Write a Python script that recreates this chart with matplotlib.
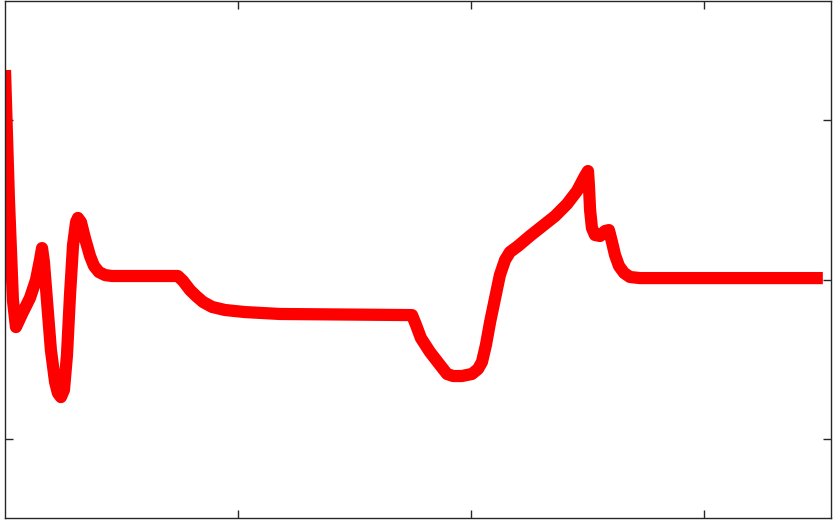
import matplotlib
matplotlib.use('Agg')
import matplotlib.pyplot as plt
import numpy as np

# values (x: one unit per tick, y: ticks at -1, 0, 1)
x = [0.000, 0.017, 0.034, 0.047, 0.073, 0.107, 0.133, 0.150, 0.159, 0.167,
     0.180, 0.197, 0.215, 0.227, 0.240, 0.253, 0.266, 0.279, 0.292, 0.305,
     0.313, 0.326, 0.343, 0.365, 0.382, 0.403, 0.429, 0.459, 0.742, 0.764,
     0.794, 0.820, 0.850, 0.889, 0.944, 1.030, 1.180, 1.747, 1.764, 1.785,
     1.824, 1.867, 1.897, 1.923, 1.961, 2.004, 2.030, 2.047, 2.064, 2.082,
     2.124, 2.146, 2.167, 2.202, 2.253, 2.361, 2.412, 2.455, 2.489, 2.502,
     2.506, 2.511, 2.519, 2.532, 2.554, 2.575, 2.592, 2.605, 2.618, 2.635,
     2.657, 2.682, 2.725, 3.510]
y = [1.313, 0.498, -0.129, -0.298, -0.216, -0.116, -0.003, 0.122, 0.197, 0.110,
     -0.129, -0.442, -0.643, -0.712, -0.737, -0.693, -0.473, -0.097, 0.216, 0.360,
     0.386, 0.360, 0.260, 0.147, 0.085, 0.047, 0.028, 0.022, 0.022, -0.009,
     -0.066, -0.103, -0.141, -0.172, -0.191, -0.204, -0.216, -0.223, -0.285, -0.367,
     -0.455, -0.536, -0.592, -0.605, -0.605, -0.592, -0.561, -0.517, -0.411, -0.266,
     0.028, 0.122, 0.172, 0.210, 0.273, 0.398, 0.473, 0.555, 0.649, 0.680,
     0.592, 0.436, 0.323, 0.279, 0.273, 0.304, 0.310, 0.235, 0.154, 0.085,
     0.041, 0.016, 0.009, 0.009]

xticks = [1, 2, 3]
yticks = [-1, 0, 1]

fig = plt.figure(figsize=(8.4, 5.25), dpi=100)
ax = fig.add_axes([5/840, 7/525, 826/840, 517/525])

ax.plot(x, y, color='#ff0000', linewidth=8.8,
        solid_joinstyle='round', solid_capstyle='butt')

ax.set_xlim(0, 3.545)
ax.set_ylim(-1.495, 1.746)
ax.set_xticks(xticks)
ax.set_yticks(yticks)
ax.tick_params(direction='in', length=6, width=1, color='#262626',
               top=True, right=True, labelbottom=False, labelleft=False)
for s in ax.spines.values():
    s.set_color('#262626')
    s.set_linewidth(1)

fig.savefig('out.png', dpi=100)
